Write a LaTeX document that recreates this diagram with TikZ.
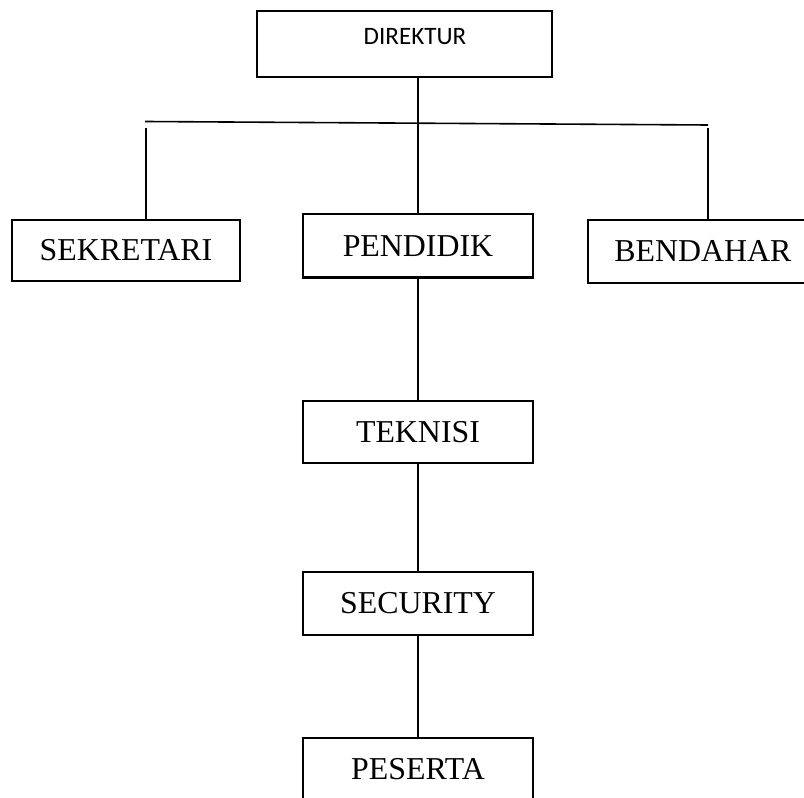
\documentclass[tikz,border=0pt]{standalone}
\usepackage{fontspec}
\setmainfont{Liberation Serif}
\newfontfamily\calib{Carlito}
\begin{document}
\begin{tikzpicture}[x=0.75pt,y=-0.75pt,
  box/.style={draw=black,line width=1.8pt,rectangle,inner sep=0pt,
    minimum width=172.5pt,minimum height=47.25pt,font=\fontsize{23.9pt}{28pt}\selectfont},
  conn/.style={line width=1.2pt,black}]
\useasboundingbox (0,0) rectangle (804,798);
\clip (0,0) rectangle (804,798);
% top box
\node[box,minimum width=221.25pt,minimum height=49.5pt] (dir) at (404.5,44) {};
\node[anchor=base,inner sep=0pt,font=\calib\fontsize{18.8pt}{22pt}\selectfont] (dirtext) at (415,45) {DIREKTUR};
% second row
\node[box,minimum width=171pt,minimum height=45.75pt] (sek) at (126,250.5) {SEKRETARI};
\node[box,minimum height=47.6pt] (pen) at (418,245.75) {PENDIDIK};
\node[box,minimum height=47.25pt] (ben) at (703,251.5) {BENDAHAR};
% column
\node[box,minimum height=46.5pt] (tek) at (418,432) {TEKNISI};
\node[box] (sec) at (418,603.5) {SECURITY};
\node[box] (pes) at (418,769.5) {PESERTA};
% horizontal bar
\coordinate (hl) at (145,121.5);
\coordinate (hr) at (708,125);
\draw[conn] (hl) -- (hr);
\coordinate (lt) at (146,128);
\coordinate (rt) at (708,128);
\draw[conn] (lt) -- (lt |- sek.north);
\draw[conn] (rt) -- (rt |- ben.north);
\draw[conn] (pen.north |- dir.south) -- (pen.north);
\draw[conn] (pen.south) -- (tek.north);
\draw[conn] (tek.south) -- (sec.north);
\draw[conn] (sec.south) -- (pes.north);
\end{tikzpicture}
\end{document}
